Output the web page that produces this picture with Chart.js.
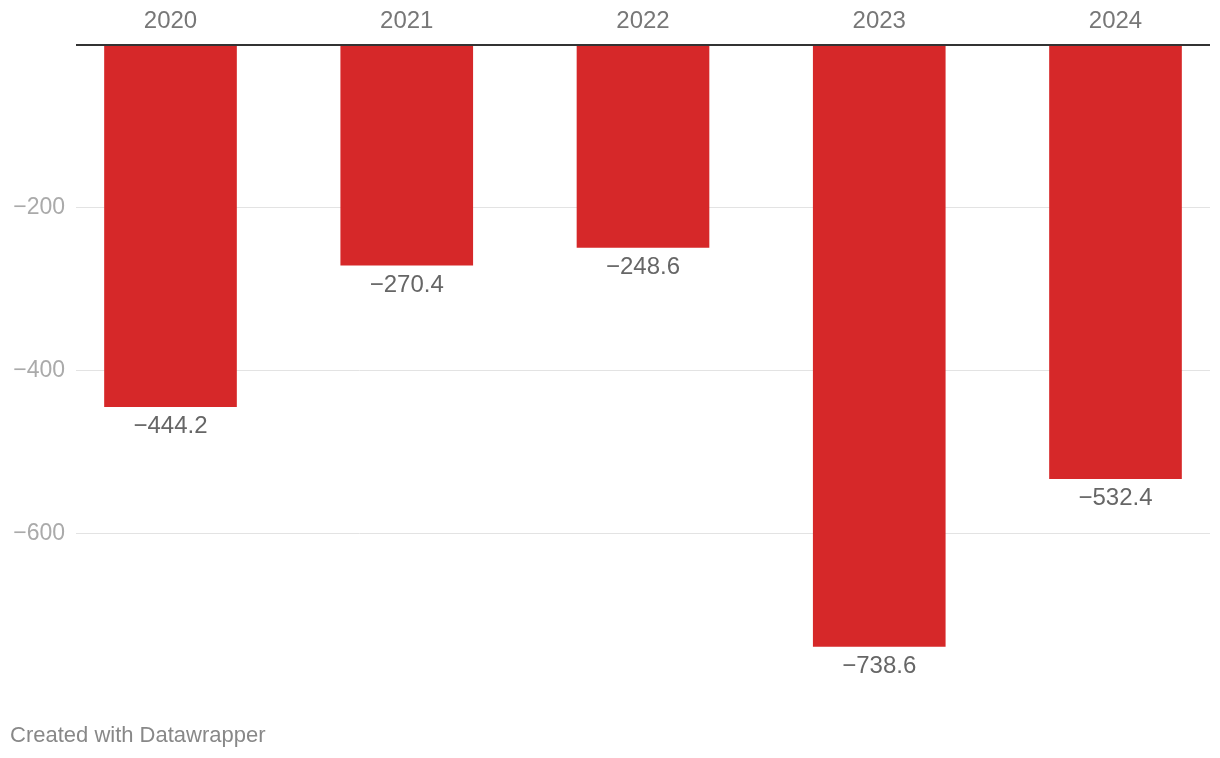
<!DOCTYPE html>
<html>
<head>
<meta charset="utf-8">
<script src="https://cdn.jsdelivr.net/npm/chart.js@4"></script>
<style>
  html, body { margin: 0; padding: 0; background: #fff; }
  #wrap { position: relative; width: 1220px; height: 758px; }
  #footer {
    position: absolute; left: 10px; top: 722px;
    font: 22px "Liberation Sans", Arial, sans-serif; color: #888;
  }
</style>
</head>
<body>
<div id="wrap">
  <canvas id="chart" width="1220" height="758"></canvas>
  <div id="footer">Created with Datawrapper</div>
</div>
<script>
  const years = ['2020', '2021', '2022', '2023', '2024'];
  const values = [-444.2, -270.4, -248.6, -738.6, -532.4];
  const yTicks = [-600, -400, -200, 0];

  const fmt = v => v.toFixed(1).replace('-', '\u2212');

  // ── zero line over the bars + value labels under each bar ──
  const overlay = {
    id: 'overlay',
    afterDatasetsDraw(chart) {
      const { ctx, chartArea, scales } = chart;
      const y0 = scales.y.getPixelForValue(0);
      ctx.save();
      ctx.strokeStyle = '#333';
      ctx.lineWidth = 2;
      ctx.beginPath();
      ctx.moveTo(chartArea.left, y0);
      ctx.lineTo(chartArea.right, y0);
      ctx.stroke();

      ctx.fillStyle = '#666';
      ctx.font = '24px "Liberation Sans", Arial, sans-serif';
      ctx.textAlign = 'center';
      ctx.textBaseline = 'middle';
      chart.getDatasetMeta(0).data.forEach((bar, i) => {
        ctx.fillText(fmt(values[i]), bar.x, bar.y + 20);
      });
      ctx.restore();
    }
  };

  new Chart(document.getElementById('chart'), {
    type: 'bar',
    data: {
      datasets: [{
        data: values.map((v, i) => ({ x: i, y: v })),
        backgroundColor: '#d62829',
        barThickness: 132
      }]
    },
    options: {
      responsive: false,
      animation: false,
      layout: { padding: { left: 0, right: 10, top: 0, bottom: 68 } },
      plugins: { legend: { display: false }, tooltip: { enabled: false } },
      scales: {
        x: {
          type: 'linear',
          position: 'top',
          offset: false,
          min: -0.4,
          max: 4.4,
          afterBuildTicks: axis => { axis.ticks = years.map((_, i) => ({ value: i })); },
          afterFit: axis => { axis.height = 45; },
          grid: { display: false, drawTicks: false, offset: false },
          border: { display: false },
          ticks: {
            padding: 9,
            color: '#777',
            font: { family: '"Liberation Sans", Arial, sans-serif', size: 24 },
            callback: v => years[v]
          }
        },
        y: {
          min: -792,
          max: 0,
          afterBuildTicks: axis => { axis.ticks = yTicks.map(v => ({ value: v })); },
          afterFit: axis => { axis.width = 76; },
          grid: {
            drawTicks: false,
            color: ctx => ctx.tick && ctx.tick.value === 0 ? 'rgba(0,0,0,0)' : '#e3e3e3',
            lineWidth: 1
          },
          border: { display: false },
          ticks: {
            padding: 11,
            color: '#aaa',
            font: { family: '"Liberation Sans", Arial, sans-serif', size: 23 },
            callback: v => v === 0 ? '' : String(v).replace('-', '\u2212')
          }
        }
      }
    },
    plugins: [overlay]
  });
</script>
</body>
</html>
